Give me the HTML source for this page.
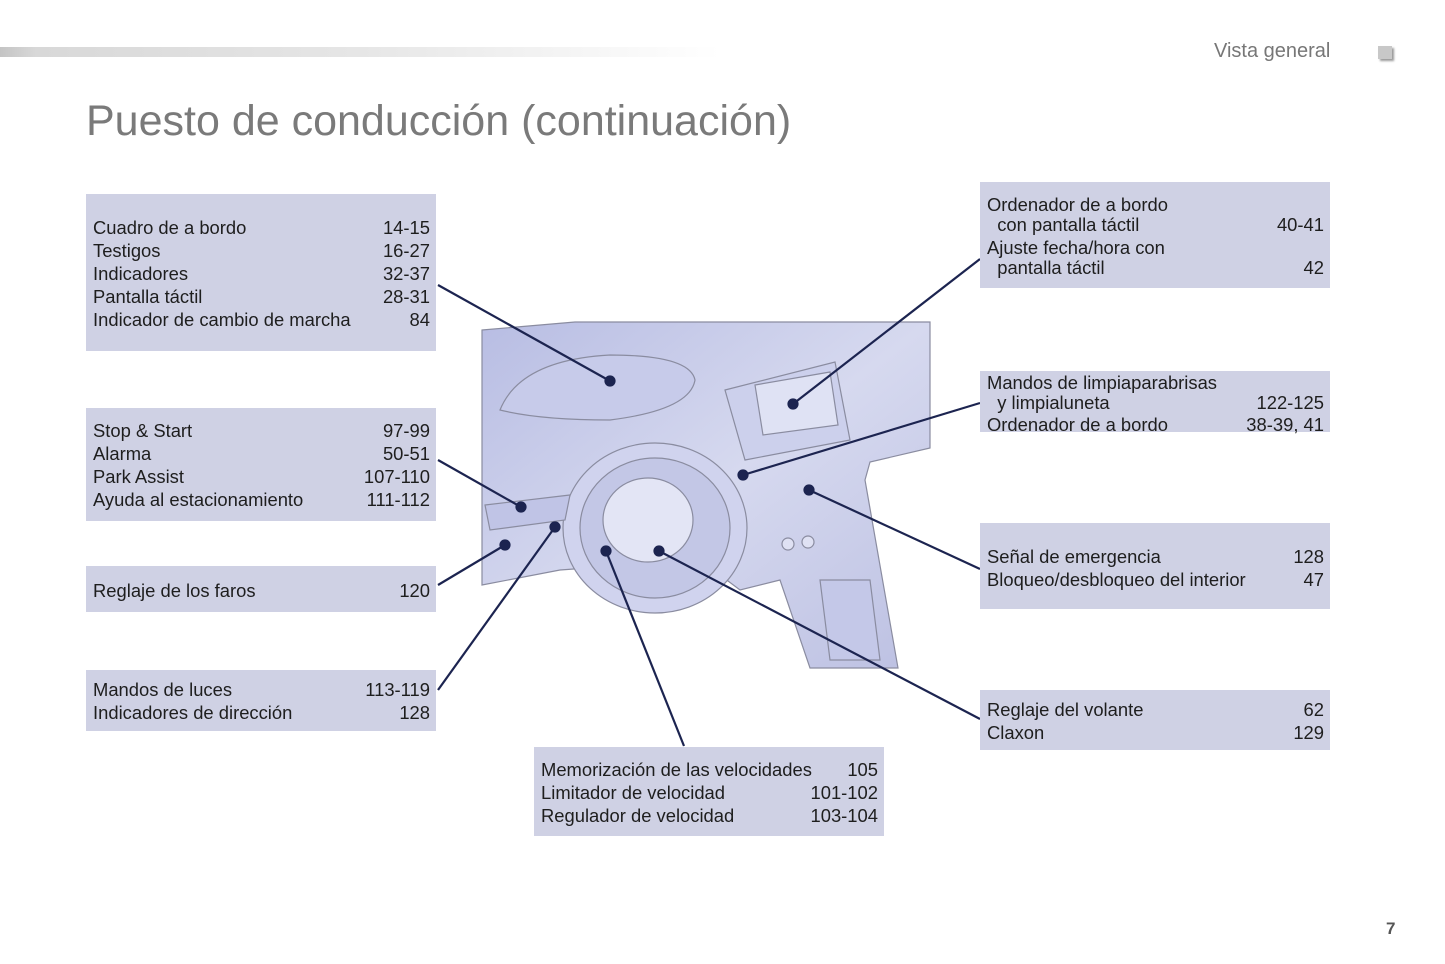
<!DOCTYPE html>
<html><head><meta charset="utf-8"><style>
body{margin:0;width:1445px;height:964px;background:#fff;position:relative;overflow:hidden;font-family:"Liberation Sans",sans-serif;}
.bar{position:absolute;left:0;top:47px;width:720px;height:10px;background:linear-gradient(90deg,#c4c4c4 0%,#d8d8d8 5%,#e6e6e6 50%,#fff 100%);}
.t{position:absolute;color:#777;}
.box{position:absolute;background:#cfd1e4;}
.r{position:absolute;font-size:18.4px;color:#1e1e1e;line-height:23px;white-space:nowrap;}
.r span{position:absolute;right:0;}
</style></head><body>
<div class="bar"></div>
<div class="t" style="left:1214px;top:40px;font-size:20px;">Vista general</div>
<div style="position:absolute;left:1378px;top:46px;width:14px;height:13px;background:#c8c8c8;box-shadow:2px 2px 2px #999;"></div>
<div class="t" style="left:86px;top:97px;font-size:43px;color:#7a7a7a;">Puesto de conducción (continuación)</div>
<div style="position:absolute;left:1386px;top:919px;font-size:17px;font-weight:bold;color:#555;">7</div>

<svg style="position:absolute;left:0;top:0" width="1445" height="964">
<defs><linearGradient id="g" x1="0" y1="0" x2="1" y2="1"><stop offset="0" stop-color="#b8bde3"/><stop offset="0.5" stop-color="#d6d9ef"/><stop offset="1" stop-color="#bcc0e2"/></linearGradient></defs>
<g stroke="#8a8ca0" stroke-width="1.2" fill="url(#g)">
<path d="M482,330 L575,322 L930,322 L930,448 L870,462 L865,480 L898,668 L810,668 L780,580 L740,590 L700,560 L560,570 L482,585 Z"/>
<path d="M500,410 Q520,360 610,355 Q690,355 695,380 Q690,410 610,420 Q540,420 500,410 Z" fill="#c7cbea"/>
<path d="M725,390 L835,362 L850,440 L745,460 Z" fill="#ccd0ec"/>
<path d="M755,385 L830,372 L838,425 L763,435 Z" fill="#dfe2f4"/>
<ellipse cx="655" cy="528" rx="92" ry="85" fill="#d0d3ee"/>
<ellipse cx="655" cy="528" rx="75" ry="70" fill="#c3c7e6"/>
<ellipse cx="648" cy="520" rx="45" ry="42" fill="#e3e5f5"/>
<path d="M485,505 L570,495 L565,520 L490,530 Z" fill="#c0c4e6"/>
<circle cx="788" cy="544" r="6" fill="#dfe1f3"/><circle cx="808" cy="542" r="6" fill="#dfe1f3"/>
<path d="M820,580 L870,580 L880,660 L830,660 Z" fill="#c4c8e8"/>
</g>
<g stroke="#1c2450" stroke-width="2.2" fill="#1c2450">
<line x1="438" y1="285" x2="610" y2="381"/><circle cx="610" cy="381" r="4.5"/>
<line x1="980" y1="259" x2="793" y2="404"/><circle cx="793" cy="404" r="4.5"/>
<line x1="980" y1="403" x2="743" y2="475"/><circle cx="743" cy="475" r="4.5"/>
<line x1="980" y1="569" x2="809" y2="490"/><circle cx="809" cy="490" r="4.5"/>
<line x1="980" y1="719" x2="659" y2="551"/><circle cx="659" cy="551" r="4.5"/>
<line x1="684" y1="746" x2="606" y2="551"/><circle cx="606" cy="551" r="4.5"/>
<line x1="438" y1="690" x2="555" y2="527"/><circle cx="555" cy="527" r="4.5"/>
<line x1="438" y1="585" x2="505" y2="545"/><circle cx="505" cy="545" r="4.5"/>
<line x1="438" y1="460" x2="521" y2="507"/><circle cx="521" cy="507" r="4.5"/>
</g>
</svg>

<div class="box" style="left:86px;top:194px;width:350px;height:157px;"></div>
<div class="r" style="left:93px;top:216px;width:337px;">Cuadro de a bordo<span>14-15</span></div>
<div class="r" style="left:93px;top:239px;width:337px;">Testigos<span>16-27</span></div>
<div class="r" style="left:93px;top:262px;width:337px;">Indicadores<span>32-37</span></div>
<div class="r" style="left:93px;top:285px;width:337px;">Pantalla táctil<span>28-31</span></div>
<div class="r" style="left:93px;top:308px;width:337px;">Indicador de cambio de marcha<span>84</span></div>

<div class="box" style="left:86px;top:408px;width:350px;height:113px;"></div>
<div class="r" style="left:93px;top:419px;width:337px;">Stop &amp; Start<span>97-99</span></div>
<div class="r" style="left:93px;top:442px;width:337px;">Alarma<span>50-51</span></div>
<div class="r" style="left:93px;top:465px;width:337px;">Park Assist<span>107-110</span></div>
<div class="r" style="left:93px;top:488px;width:337px;">Ayuda al estacionamiento<span>111-112</span></div>

<div class="box" style="left:86px;top:566px;width:350px;height:46px;"></div>
<div class="r" style="left:93px;top:579px;width:337px;">Reglaje de los faros<span>120</span></div>

<div class="box" style="left:86px;top:670px;width:350px;height:61px;"></div>
<div class="r" style="left:93px;top:678px;width:337px;">Mandos de luces<span>113-119</span></div>
<div class="r" style="left:93px;top:701px;width:337px;">Indicadores de dirección<span>128</span></div>

<div class="box" style="left:534px;top:747px;width:350px;height:89px;"></div>
<div class="r" style="left:541px;top:758px;width:337px;">Memorización de las velocidades<span>105</span></div>
<div class="r" style="left:541px;top:781px;width:337px;">Limitador de velocidad<span>101-102</span></div>
<div class="r" style="left:541px;top:804px;width:337px;">Regulador de velocidad<span>103-104</span></div>

<div class="box" style="left:980px;top:182px;width:350px;height:106px;"></div>
<div class="r" style="left:987px;top:193px;width:337px;">Ordenador de a bordo</div>
<div class="r" style="left:987px;top:213px;width:337px;">&nbsp;&nbsp;con pantalla táctil<span>40-41</span></div>
<div class="r" style="left:987px;top:236px;width:337px;">Ajuste fecha/hora con</div>
<div class="r" style="left:987px;top:256px;width:337px;">&nbsp;&nbsp;pantalla táctil<span>42</span></div>

<div class="box" style="left:980px;top:371px;width:350px;height:61px;"></div>
<div class="r" style="left:987px;top:371px;width:337px;">Mandos de limpiaparabrisas</div>
<div class="r" style="left:987px;top:391px;width:337px;">&nbsp;&nbsp;y limpialuneta<span>122-125</span></div>
<div class="r" style="left:987px;top:413px;width:337px;">Ordenador de a bordo<span>38-39, 41</span></div>

<div class="box" style="left:980px;top:523px;width:350px;height:86px;"></div>
<div class="r" style="left:987px;top:545px;width:337px;">Señal de emergencia<span>128</span></div>
<div class="r" style="left:987px;top:568px;width:337px;">Bloqueo/desbloqueo del interior<span>47</span></div>

<div class="box" style="left:980px;top:690px;width:350px;height:60px;"></div>
<div class="r" style="left:987px;top:698px;width:337px;">Reglaje del volante<span>62</span></div>
<div class="r" style="left:987px;top:721px;width:337px;">Claxon<span>129</span></div>
</body></html>
